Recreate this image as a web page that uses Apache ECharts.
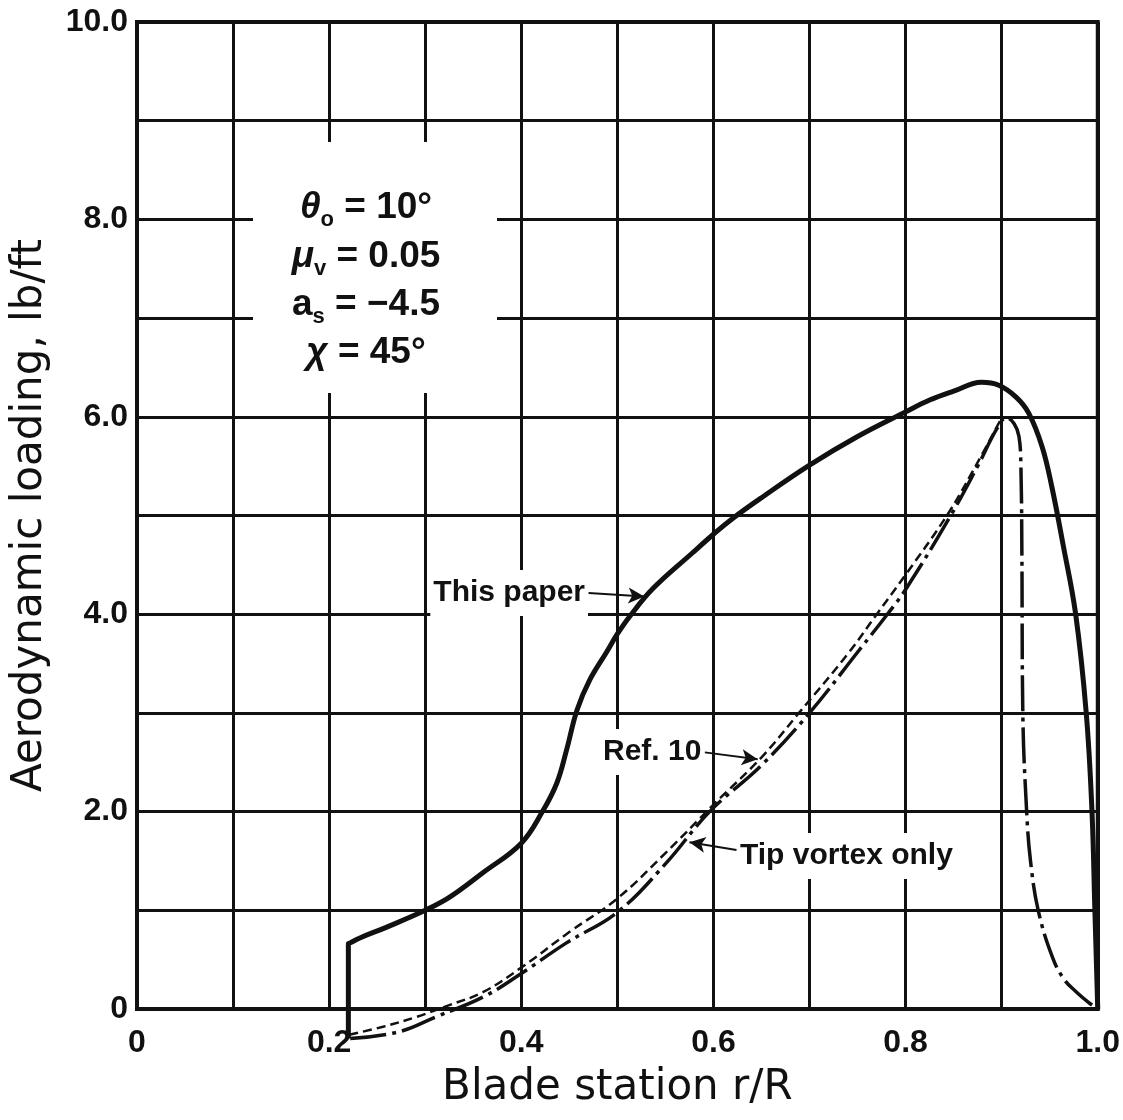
<!DOCTYPE html>
<html>
<head>
<meta charset="utf-8">
<script src="https://cdn.jsdelivr.net/npm/echarts@6.0.0/dist/echarts.min.js"></script>
<style>
  html, body { margin: 0; padding: 0; background: #fff; }
  #chart { width: 1123px; height: 1120px; }
</style>
</head>
<body>
<div id="chart"></div>
<script>
// tick labels (only every other grid line is labelled)
const xTickValues = [0, 0.2, 0.4, 0.6, 0.8, 1.0]
const xTickText = ['0', '0.2', '0.4', '0.6', '0.8', '1.0']
const yTickValues = [0, 2, 4, 6, 8, 10]
const yTickText = ['0', '2.0', '4.0', '6.0', '8.0', '10.0']

// "This paper"
const paperX = [0.22, 0.22, 0.222, 0.232, 0.26, 0.30, 0.325, 0.36, 0.40, 0.422, 0.437, 0.447, 0.458, 0.471, 0.489, 0.50, 0.513, 0.537, 0.578, 0.60, 0.62, 0.65, 0.70, 0.75, 0.80, 0.825, 0.85, 0.879, 0.897, 0.915, 0.928, 0.942, 0.952, 0.964, 0.977, 0.988, 0.994, 0.997, 1.0]
const paperY = [-0.3, 0.66, 0.67, 0.72, 0.83, 1.0, 1.13, 1.38, 1.68, 2.0, 2.29, 2.62, 3.03, 3.33, 3.62, 3.80, 3.98, 4.26, 4.62, 4.81, 4.97, 5.18, 5.51, 5.8, 6.05, 6.17, 6.26, 6.35, 6.32, 6.2, 6.04, 5.7, 5.3, 4.7, 4.0, 3.0, 2.0, 1.0, 0]

// "Ref. 10"
const ref10X = [0.221, 0.256, 0.291, 0.325, 0.36, 0.40, 0.45, 0.50, 0.55, 0.60, 0.65, 0.689, 0.74, 0.77, 0.80, 0.843, 0.87, 0.90]
const ref10Y = [-0.26, -0.18, -0.08, 0.04, 0.17, 0.42, 0.78, 1.12, 1.58, 2.07, 2.55, 3.0, 3.6, 4.0, 4.4, 5.0, 5.45, 5.99]

// "Tip vortex only"
const tipX = [0.222, 0.273, 0.311, 0.36, 0.40, 0.447, 0.50, 0.55, 0.596, 0.65, 0.70, 0.752, 0.781, 0.80, 0.847, 0.875, 0.895, 0.905, 0.913, 0.918, 0.920, 0.921, 0.922, 0.926, 0.93, 0.938, 0.953, 0.965, 0.978, 0.99, 1.0]
const tipY = [-0.3, -0.23, -0.08, 0.12, 0.36, 0.67, 0.98, 1.47, 2.0, 2.47, 3.0, 3.64, 4.0, 4.25, 5.0, 5.5, 5.88, 5.99, 5.93, 5.8, 5.5, 4.65, 3.0, 2.0, 1.5, 1.0, 0.52, 0.3, 0.17, 0.07, 0.0]

// leader arrows [fromX, fromY, toX, toY]
const arrowPaper = [0.470, 4.215, 0.528, 4.18]
const arrowRef10 = [0.591, 2.60, 0.646, 2.53]
const arrowTip = [0.624, 1.61, 0.575, 1.69]

const ink = '#111'
const tickFont = 'Liberation Sans'

function pairs(xs, ys) {
  return xs.map((x, i) => [x, ys[i]])
}

function tickLabel(values, texts) {
  return (v) => {
    const i = values.findIndex(t => Math.abs(t - v) < 1e-6)
    return i < 0 ? '' : texts[i]
  }
}

function arrow(a) {
  return [{ coord: [a[0], a[1]] }, { coord: [a[2], a[3]] }]
}

const paramRich = {
  m: { font: 'bold 37px "Liberation Sans"', fill: ink, lineHeight: 46, verticalAlign: 'middle' },
  g: { font: 'italic bold 37px "Liberation Sans"', fill: ink, lineHeight: 46, verticalAlign: 'middle' },
  s: { font: 'bold 22px "Liberation Sans"', fill: ink, lineHeight: 46, verticalAlign: 'bottom' },
}

function paramText(y, text) {
  return {
    type: 'text', x: 366, y: y, z: 60,
    style: { text: text, rich: paramRich, align: 'center', verticalAlign: 'middle' }
  }
}

function noteText(x, y, text, align) {
  return {
    type: 'text', x: x, y: y, z: 60,
    style: {
      text: text, font: 'bold 30px "Liberation Sans"', fill: ink,
      align: align, verticalAlign: 'middle',
      backgroundColor: '#fff', padding: [8, 3]
    }
  }
}

const chart = echarts.init(document.getElementById('chart'))

const option = {
  animation: false,
  backgroundColor: '#fff',
  grid: {
    left: 137, right: 24, top: 22, bottom: 111,
    show: true, borderColor: ink, borderWidth: 4
  },
  xAxis: {
    type: 'value', min: 0, max: 1, interval: 0.1,
    name: 'Blade station r/R',
    nameLocation: 'middle', nameGap: 58,
    nameTextStyle: { fontFamily: 'DejaVu Sans', fontSize: 42, color: ink },
    axisLine: { show: true, lineStyle: { color: ink, width: 4 } },
    axisTick: { show: false },
    splitLine: { show: true, lineStyle: { color: ink, width: 3 } },
    axisLabel: {
      formatter: tickLabel(xTickValues, xTickText),
      margin: 18, fontFamily: tickFont, fontWeight: 'bold', fontSize: 32, color: ink,
      showMaxLabel: true, showMinLabel: true
    }
  },
  yAxis: {
    type: 'value', min: 0, max: 10, interval: 1,
    name: 'Aerodynamic loading, lb/ft',
    nameLocation: 'middle', nameGap: 86,
    nameTextStyle: { fontFamily: 'DejaVu Sans', fontSize: 42, color: ink },
    axisLine: { show: true, lineStyle: { color: ink, width: 4 } },
    axisTick: { show: false },
    splitLine: { show: true, lineStyle: { color: ink, width: 3 } },
    axisLabel: {
      formatter: tickLabel(yTickValues, yTickText),
      margin: 9, fontFamily: tickFont, fontWeight: 'bold', fontSize: 32, color: ink
    }
  },
  series: [
    {
      name: 'This paper',
      type: 'line',
      data: pairs(paperX, paperY),
      showSymbol: false,
      smooth: 0.4,
      clip: false,
      z: 5,
      lineStyle: { color: ink, width: 5 },
      markLine: {
        silent: true,
        symbol: ['none', 'arrow'],
        symbolSize: [12, 16],
        label: { show: false },
        lineStyle: { color: ink, width: 2, type: 'solid' },
        data: [arrow(arrowPaper), arrow(arrowRef10), arrow(arrowTip)]
      }
    },
    {
      name: 'Ref. 10',
      type: 'line',
      data: pairs(ref10X, ref10Y),
      showSymbol: false,
      smooth: 0.4,
      clip: false,
      z: 4,
      lineStyle: { color: ink, width: 2.5, type: [9, 5] }
    },
    {
      name: 'Tip vortex only',
      type: 'line',
      data: pairs(tipX, tipY),
      showSymbol: false,
      smooth: 0.4,
      clip: false,
      z: 4,
      lineStyle: { color: ink, width: 3.5, type: [36, 6, 4, 6] }
    }
  ],
  graphic: [
    { type: 'rect', z: 50, shape: { x: 253, y: 142, width: 244, height: 251 }, style: { fill: '#fff' } },
    paramText(208, '{g|θ}{s|o}{m| = 10°}'),
    paramText(257, '{g|μ}{s|v}{m| = 0.05}'),
    paramText(305, '{m|a}{s|s}{m| = −4.5}'),
    paramText(353, '{g|χ}{m| = 45°}'),
    noteText(588, 593, 'This paper', 'right'),
    noteText(600, 752, 'Ref. 10', 'left'),
    noteText(737, 856, 'Tip vortex only', 'left')
  ]
}

chart.setOption(option)
</script>
</body>
</html>
